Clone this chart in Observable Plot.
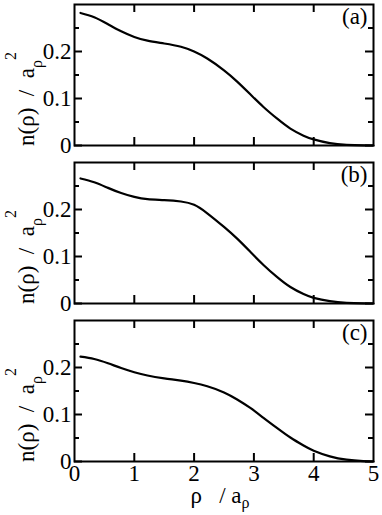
<!DOCTYPE html>
<html><head><meta charset="utf-8">
<script src="https://cdn.jsdelivr.net/npm/d3@7"></script>
<script src="https://cdn.jsdelivr.net/npm/@observablehq/plot@0.6"></script>
<style>
html,body{margin:0;padding:0;background:#fff;}
#chart{width:382px;height:515px;}
#chart svg{display:block;overflow:visible;}
#chart svg, #chart svg text{font-family:"Liberation Serif","Times New Roman",serif !important;}
</style></head><body><div id="chart"></div>
<script>
// ---- data ----
const rho = [0.1, 0.33, 0.56, 0.78, 1.0, 1.22, 1.5, 1.78, 2.0, 2.22, 2.5, 2.72, 2.94, 3.16, 3.39, 3.61, 3.83, 4.0, 4.27, 4.55, 4.83, 5.0];
const densityA = [0.282, 0.273, 0.258, 0.243, 0.231, 0.223, 0.217, 0.210, 0.200, 0.185, 0.160, 0.136, 0.109, 0.082, 0.057, 0.036, 0.021, 0.013, 0.005, 0.0015, 0.0003, 0.0];
const densityB = [0.266, 0.258, 0.246, 0.235, 0.227, 0.222, 0.220, 0.217, 0.210, 0.192, 0.163, 0.138, 0.110, 0.082, 0.056, 0.035, 0.020, 0.012, 0.005, 0.0015, 0.0003, 0.0];
const densityC = [0.223, 0.218, 0.209, 0.199, 0.190, 0.183, 0.177, 0.172, 0.167, 0.160, 0.147, 0.132, 0.114, 0.093, 0.071, 0.051, 0.034, 0.023, 0.011, 0.004, 0.001, 0.0];
const panelLabels = ["(a)", "(b)", "(c)"];
const yMajorTicks = [0, 0.1, 0.2];
const yMinorTicks = [0.05, 0.15, 0.25];
const xTickLabels = [0, 1, 2, 3, 4, 5];
const xInnerTicks = [1, 2, 3, 4];
const yLabelParts = ["n(\u03c1)\u2002/\u2002a", "\u03c1", "2"];
const xLabelParts = ["\u03c1\u2002 / a", "\u03c1"];

// ---- layout ----
const W = 382, ML = 74, MR = 9;
const font = "'Liberation Serif', 'Times New Roman', serif";
const layout = [
  {series: densityA, label: panelLabels[0], height: 154, marginTop: 4, marginBottom: 9, last: false},
  {series: densityB, label: panelLabels[1], height: 158, marginTop: 8, marginBottom: 9, last: false},
  {series: densityC, label: panelLabels[2], height: 203, marginTop: 8, marginBottom: 54, last: true}
];
const fmt = d => d === 0 ? "0" : d.toFixed(1);

// turn the trailing parts of a label into subscript / superscript tspans
function addScripts(svg, parts, subShift, supShift) {
  const full = parts.join("");
  const nodes = Array.from(svg.querySelectorAll("text")).filter(n => n.textContent === full);
  for (const node of nodes) {
    const t = d3.select(node);
    t.text(null);
    t.append("tspan").text(parts[0]);
    t.append("tspan").attr("font-size", "16px").attr("dy", subShift).text(parts[1]);
    if (parts.length > 2) t.append("tspan").attr("font-size", "16px").attr("dy", supShift).text(parts[2]);
  }
}

const root = document.getElementById("chart");
for (const p of layout) {
  const fw = W - ML - MR;
  const fh = p.height - p.marginTop - p.marginBottom;
  const data = rho.map((r, i) => ({rho: r, n: p.series[i]}));
  const tk = {stroke: "black", strokeWidth: 2};
  const marks = [
    Plot.line(data, {x: "rho", y: "n", stroke: "black", strokeWidth: 2.2, curve: "natural"}),
    Plot.tickY(yMajorTicks, {y: d => d, ...tk, insetRight: fw - 8}),
    Plot.tickY(yMajorTicks, {y: d => d, ...tk, insetLeft: fw - 8}),
    Plot.tickY(yMinorTicks, {y: d => d, ...tk, insetRight: fw - 5}),
    Plot.tickY(yMinorTicks, {y: d => d, ...tk, insetLeft: fw - 5}),
    Plot.tickX(xInnerTicks, {x: d => d, ...tk, insetBottom: fh - 8}),
    Plot.tickX(xInnerTicks, {x: d => d, ...tk, insetTop: fh - 8}),
    Plot.frame({stroke: "black", strokeWidth: 2}),
    Plot.text(yMajorTicks, {y: d => d, text: fmt, frameAnchor: "left", textAnchor: "end", dx: -3, fill: "black"}),
    Plot.text([p.label], {frameAnchor: "top-right", textAnchor: "end", lineAnchor: "top", dx: -6, dy: 3, fill: "black"}),
    Plot.text([yLabelParts.join("")], {frameAnchor: "left", rotate: -90, textAnchor: "middle", lineAnchor: "middle", dx: -48, dy: 24, fill: "black"})
  ];
  if (p.last) {
    marks.push(Plot.text(xTickLabels, {x: d => d, text: d => String(d), frameAnchor: "bottom", lineAnchor: "top", dy: 3, fill: "black"}));
    marks.push(Plot.text([xLabelParts.join("")], {frameAnchor: "bottom", textAnchor: "middle", lineAnchor: "middle", dx: -4, dy: 34, fill: "black"}));
  }
  const svg = Plot.plot({
    width: W,
    height: p.height,
    marginLeft: ML,
    marginRight: MR,
    marginTop: p.marginTop,
    marginBottom: p.marginBottom,
    x: {domain: [0, 5], axis: null},
    y: {domain: [0, 0.3], axis: null},
    style: {fontFamily: font, fontSize: "23px", background: "transparent", overflow: "visible", color: "black"},
    marks
  });
  addScripts(svg, yLabelParts, "8", "-26");
  if (p.last) addScripts(svg, xLabelParts, "5", "0");
  root.appendChild(svg);
}
</script></body></html>
